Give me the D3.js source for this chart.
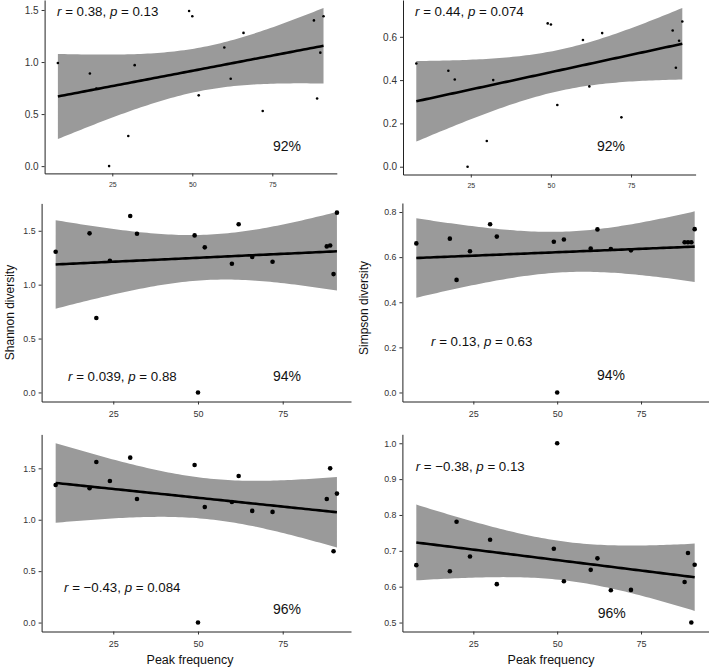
<!DOCTYPE html>
<html><head><meta charset="utf-8">
<script src="https://cdn.jsdelivr.net/npm/d3@7"></script>
<style>
html,body{margin:0;padding:0;background:#fff;}
svg text{font-family:"Liberation Sans",Arial,Helvetica,sans-serif;}
</style>
</head><body>
<svg id="chart" width="709" height="669"></svg>
<script>
// ---------- data ----------
const peakFreq = [8,18,20,24,30,32,49,50,52,60,62,66,72,88,89,90,91];
const topLeftValues = [0.99,0.89,0.745,0.0,0.29,0.97,1.49,1.44,0.68,1.14,0.84,1.28,0.53,1.40,0.65,1.09,1.44];
const topRightValues = [0.477,0.443,0.403,0.0,0.119,0.400,0.662,0.657,0.285,0.585,0.371,0.617,0.228,0.629,0.457,0.582,0.671];
const shannonValues = [1.305,1.476,0.691,1.222,1.637,1.473,1.457,0.0,1.346,1.194,1.56,1.256,1.212,1.355,1.364,1.098,1.668];
const simpsonValues = [0.661,0.682,0.499,0.626,0.746,0.691,0.668,0.0,0.678,0.638,0.723,0.636,0.630,0.666,0.666,0.666,0.724];
const bottomLeftValues = [1.338,1.306,1.562,1.377,1.604,1.202,1.533,0.0,1.124,1.173,1.426,1.086,1.076,1.202,1.500,0.694,1.254];
const bottomRightValues = [0.660,0.643,0.781,0.684,0.731,0.607,0.706,1.0,0.615,0.647,0.679,0.590,0.591,0.613,0.694,0.500,0.661];
const rLabels = ["0.38","0.44","0.039","0.13","\u22120.43","\u22120.38"];
const pLabels = ["0.13","0.074","0.88","0.63","0.084","0.13"];
const pctLabels = ["92%","92%","94%","94%","96%","96%"];
const yTitles = ["","","Shannon diversity","Simpson diversity","",""];
const xTitles = ["","","","","Peak frequency","Peak frequency"];
const xTicks = [25,50,75];
const yTickSets = [[0,0.5,1.0,1.5],[0,0.2,0.4,0.6],[0,0.5,1.0,1.5],[0,0.2,0.4,0.6,0.8],[0,0.5,1.0,1.5],[0.5,0.6,0.7,0.8,0.9,1.0]];
const yDomains = [[-0.07,1.596],[-0.036,0.770],[-0.084,1.754],[-0.04,0.84],[-0.087,1.83],[0.475,1.025]];
const xDomain = [3.85,95.15];
const seriesList = [topLeftValues,topRightValues,shannonValues,simpsonValues,bottomLeftValues,bottomRightValues];

// ---------- layout ----------
const layout = [
  {x0:44.6,x1:336.8,y0:0,y1:173.4,r:1.3,yFont:10,xFont:7,xLabY:184,
   stat:[57,10.5],pct:[273,146],ytitle:null,xtitle:null},
  {x0:403,x1:695.6,y0:0,y1:174.5,r:1.3,yFont:10,xFont:7,xLabY:185,
   stat:[415,11],pct:[597,146],ytitle:null,xtitle:null},
  {x0:41.6,x1:351,y0:203.4,y1:401.5,r:2.3,yFont:8.8,xFont:9,xLabY:414,
   stat:[68,376],pct:[273,376],ytitle:[14,312.5],xtitle:null},
  {x0:402.4,x1:708.6,y0:203,y1:401.5,r:2.3,yFont:8.8,xFont:9,xLabY:414,
   stat:[431,341],pct:[597,375],ytitle:[368,308],xtitle:null},
  {x0:41.6,x1:351,y0:434.4,y1:631.5,r:2.3,yFont:8.8,xFont:9,xLabY:644,
   stat:[64,587],pct:[273,609],ytitle:null,xtitle:[190,664]},
  {x0:402.4,x1:708.6,y0:434.3,y1:631.5,r:2.3,yFont:8.8,xFont:9,xLabY:644,
   stat:[415.7,466],pct:[597.7,612.5],ytitle:null,xtitle:[551,664]}
];
const tCrit = 2.1314; // t(0.975, df=15)

const svg = d3.select("#chart");

function linFit(xs, ys){
  const n = xs.length;
  const mx = d3.mean(xs), my = d3.mean(ys);
  let sxx=0, sxy=0;
  for(let i=0;i<n;i++){ sxx += (xs[i]-mx)**2; sxy += (xs[i]-mx)*(ys[i]-my); }
  const b = sxy/sxx, a = my - b*mx;
  let sse=0;
  for(let i=0;i<n;i++){ sse += (ys[i]-a-b*xs[i])**2; }
  const s = Math.sqrt(sse/(n-2));
  const xmin = d3.min(xs), xmax = d3.max(xs);
  const grid = d3.range(0,81).map(k => xmin + (xmax-xmin)*k/80);
  return grid.map(x0 => {
    const yh = a + b*x0;
    const se = s*Math.sqrt(1/n + (x0-mx)**2/sxx);
    return {x:x0, y:yh, lo:yh - tCrit*se, hi:yh + tCrit*se};
  });
}

seriesList.forEach((vals, i) => {
  const L = layout[i];
  const xs = d3.scaleLinear().domain(xDomain).range([L.x0, L.x1]);
  const ys = d3.scaleLinear().domain(yDomains[i]).range([L.y1, L.y0]);
  const g = svg.append("g");
  const fit = linFit(peakFreq, vals);

  g.append("path").datum(fit)
    .attr("d", d3.area().x(d=>xs(d.x)).y0(d=>ys(d.lo)).y1(d=>ys(d.hi)))
    .attr("fill", "#9a9a9a");

  g.selectAll("circle.pt").data(peakFreq.map((x,k)=>({x, y:vals[k]})))
    .enter().append("circle")
    .attr("cx", d=>xs(d.x)).attr("cy", d=>ys(d.y)).attr("r", L.r).attr("fill", "#000");

  g.append("path").datum(fit)
    .attr("d", d3.line().x(d=>xs(d.x)).y(d=>ys(d.y)))
    .attr("fill","none").attr("stroke","#000").attr("stroke-width",2.6);

  // axes
  const xAxis = g.append("g").attr("transform", `translate(0,${L.y1})`)
    .call(d3.axisBottom(xs).tickValues(xTicks).tickSize(3).tickPadding(2).tickSizeOuter(0));
  xAxis.select(".domain").attr("stroke","#222").attr("stroke-width",1);
  xAxis.selectAll(".tick line").attr("stroke","#333");
  xAxis.selectAll(".tick text").attr("font-size", L.xFont).attr("fill","#333")
    .attr("dy", null).attr("y", null).attr("dominant-baseline","central")
    .attr("transform", `translate(0,${L.xLabY - L.y1})`);

  const yAxis = g.append("g").attr("transform", `translate(${L.x0},0)`)
    .call(d3.axisLeft(ys).tickValues(yTickSets[i]).tickFormat(d3.format(".1f")).tickSize(3).tickPadding(3).tickSizeOuter(0));
  yAxis.select(".domain").attr("stroke","#222").attr("stroke-width",1);
  yAxis.selectAll(".tick line").attr("stroke","#333");
  yAxis.selectAll(".tick text").attr("font-size", L.yFont).attr("fill","#333");

  // stat annotation
  const st = g.append("text").attr("x", L.stat[0]).attr("y", L.stat[1])
    .attr("dominant-baseline","central").attr("font-size",13.3).attr("fill","#111");
  st.append("tspan").attr("font-style","italic").text("r");
  st.append("tspan").text(" = " + rLabels[i] + ", ");
  st.append("tspan").attr("font-style","italic").text("p");
  st.append("tspan").text(" = " + pLabels[i]);

  g.append("text").attr("x", L.pct[0]).attr("y", L.pct[1])
    .attr("dominant-baseline","central").attr("font-size",14).attr("fill","#111")
    .text(pctLabels[i]);

  if (L.ytitle && yTitles[i]) {
    g.append("text").attr("transform", `translate(${L.ytitle[0]},${L.ytitle[1]}) rotate(-90)`)
      .attr("text-anchor","middle").attr("font-size",12).attr("fill","#111").text(yTitles[i]);
  }
  if (L.xtitle && xTitles[i]) {
    g.append("text").attr("x", L.xtitle[0]).attr("y", L.xtitle[1])
      .attr("text-anchor","middle").attr("font-size",12.5).attr("fill","#111").text(xTitles[i]);
  }
});
</script>
</body></html>
